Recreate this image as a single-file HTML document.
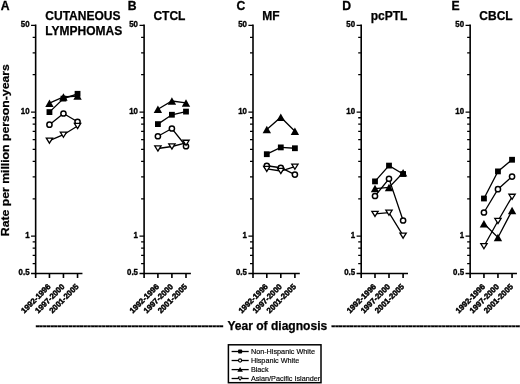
<!DOCTYPE html>
<html><head><meta charset="utf-8"><title>Figure</title>
<style>html,body{margin:0;padding:0;background:#fff}svg{display:block}.b{font-family:"Liberation Sans",Arial,Helvetica,sans-serif;font-weight:bold}.r{font-family:"Liberation Sans",Arial,Helvetica,sans-serif;font-weight:normal}</style>
</head><body>
<svg width="520" height="384" viewBox="0 0 520 384">
<rect width="520" height="384" fill="#fff"/>
<g class="b" fill="#000">
<text transform="translate(9.3,236.2) rotate(-90)" font-size="11.7" stroke="#000" stroke-width="0.25" textLength="172" lengthAdjust="spacingAndGlyphs">Rate per million person-years</text>
<g stroke="#000" stroke-width="1.6" fill="none" stroke-linecap="butt">
<path d="M35.65 24.50V274.32"/>
<path d="M31.05 273.52H82.45"/>
<path d="M31.05 25.30H35.65M31.05 112.05H35.65M31.05 236.16H35.65M32.65 37.33H35.65M32.65 52.83H35.65M32.65 74.69H35.65M32.65 117.73H35.65M32.65 124.08H35.65M32.65 131.28H35.65M32.65 139.58H35.65M32.65 149.41H35.65M32.65 161.44H35.65M32.65 176.95H35.65M32.65 198.80H35.65M32.65 241.84H35.65M32.65 248.19H35.65M32.65 255.39H35.65M32.65 263.70H35.65" stroke-width="1.3"/>
<path d="M35.65 273.52V278.02M49.45 273.52V278.02M63.45 273.52V278.02M77.55 273.52V278.02" stroke-width="1.6"/>
</g>
<text transform="translate(29.55,27.05) scale(0.95,1)" font-size="8.3" text-anchor="end" stroke="#000" stroke-width="0.35">50</text>
<text transform="translate(29.55,113.80) scale(0.95,1)" font-size="8.3" text-anchor="end" stroke="#000" stroke-width="0.35">10</text>
<text transform="translate(29.55,237.91) scale(0.95,1)" font-size="8.3" text-anchor="end" stroke="#000" stroke-width="0.35">1</text>
<text transform="translate(29.55,275.27) scale(0.95,1)" font-size="8.3" text-anchor="end" stroke="#000" stroke-width="0.35">0.5</text>
<text transform="translate(51.05,287.12) rotate(-45)" font-size="7.9" text-anchor="end" stroke="#000" stroke-width="0.45">1992-1996</text>
<text transform="translate(65.05,287.12) rotate(-45)" font-size="7.9" text-anchor="end" stroke="#000" stroke-width="0.45">1997-2000</text>
<text transform="translate(79.15,287.12) rotate(-45)" font-size="7.9" text-anchor="end" stroke="#000" stroke-width="0.45">2001-2005</text>
<text x="0.7" y="9.5" font-size="12.2" stroke="#000" stroke-width="0.3">A</text>
<text x="45.3" y="20.0" font-size="12" stroke="#000" stroke-width="0.25">CUTANEOUS</text>
<text x="45.3" y="34.9" font-size="12" stroke="#000" stroke-width="0.25">LYMPHOMAS</text>
<polyline points="49.45,112.10 63.45,98.60 77.55,93.80" fill="none" stroke="#000" stroke-width="1.3"/>
<rect x="46.55" y="109.20" width="5.8" height="5.8"/>
<rect x="60.55" y="95.70" width="5.8" height="5.8"/>
<rect x="74.65" y="90.90" width="5.8" height="5.8"/>
<polyline points="49.45,124.70 63.45,113.50 77.55,121.80" fill="none" stroke="#000" stroke-width="1.3"/>
<circle cx="49.45" cy="124.70" r="2.6" fill="#fff" stroke="#000" stroke-width="1.5"/>
<circle cx="63.45" cy="113.50" r="2.6" fill="#fff" stroke="#000" stroke-width="1.5"/>
<circle cx="77.55" cy="121.80" r="2.6" fill="#fff" stroke="#000" stroke-width="1.5"/>
<polyline points="49.45,103.20 63.45,97.00 77.55,96.00" fill="none" stroke="#000" stroke-width="1.3"/>
<path d="M49.45 99.45L53.65 106.95H45.25Z"/>
<path d="M63.45 93.25L67.65 100.75H59.25Z"/>
<path d="M77.55 92.25L81.75 99.75H73.35Z"/>
<polyline points="49.45,140.60 63.45,134.70 77.55,126.00" fill="none" stroke="#000" stroke-width="1.3"/>
<path d="M49.45 143.15L52.60 138.05H46.30Z" fill="#fff" stroke="#000" stroke-width="1.3" stroke-linejoin="miter"/>
<path d="M63.45 137.25L66.60 132.15H60.30Z" fill="#fff" stroke="#000" stroke-width="1.3" stroke-linejoin="miter"/>
<path d="M77.55 128.55L80.70 123.45H74.40Z" fill="#fff" stroke="#000" stroke-width="1.3" stroke-linejoin="miter"/>
<g stroke="#000" stroke-width="1.6" fill="none" stroke-linecap="butt">
<path d="M144.10 24.50V274.32"/>
<path d="M139.50 273.52H190.90"/>
<path d="M139.50 25.30H144.10M139.50 112.05H144.10M139.50 236.16H144.10M141.10 37.33H144.10M141.10 52.83H144.10M141.10 74.69H144.10M141.10 117.73H144.10M141.10 124.08H144.10M141.10 131.28H144.10M141.10 139.58H144.10M141.10 149.41H144.10M141.10 161.44H144.10M141.10 176.95H144.10M141.10 198.80H144.10M141.10 241.84H144.10M141.10 248.19H144.10M141.10 255.39H144.10M141.10 263.70H144.10" stroke-width="1.3"/>
<path d="M144.10 273.52V278.02M157.90 273.52V278.02M171.90 273.52V278.02M186.00 273.52V278.02" stroke-width="1.6"/>
</g>
<text transform="translate(138.00,27.05) scale(0.95,1)" font-size="8.3" text-anchor="end" stroke="#000" stroke-width="0.35">50</text>
<text transform="translate(138.00,113.80) scale(0.95,1)" font-size="8.3" text-anchor="end" stroke="#000" stroke-width="0.35">10</text>
<text transform="translate(138.00,237.91) scale(0.95,1)" font-size="8.3" text-anchor="end" stroke="#000" stroke-width="0.35">1</text>
<text transform="translate(138.00,275.27) scale(0.95,1)" font-size="8.3" text-anchor="end" stroke="#000" stroke-width="0.35">0.5</text>
<text transform="translate(159.50,287.12) rotate(-45)" font-size="7.9" text-anchor="end" stroke="#000" stroke-width="0.45">1992-1996</text>
<text transform="translate(173.50,287.12) rotate(-45)" font-size="7.9" text-anchor="end" stroke="#000" stroke-width="0.45">1997-2000</text>
<text transform="translate(187.60,287.12) rotate(-45)" font-size="7.9" text-anchor="end" stroke="#000" stroke-width="0.45">2001-2005</text>
<text x="127.7" y="9.5" font-size="12.2" stroke="#000" stroke-width="0.3">B</text>
<text x="153.4" y="20.2" font-size="12" stroke="#000" stroke-width="0.25">CTCL</text>
<polyline points="157.90,124.10 171.90,114.75 186.00,111.60" fill="none" stroke="#000" stroke-width="1.3"/>
<rect x="155.00" y="121.20" width="5.8" height="5.8"/>
<rect x="169.00" y="111.85" width="5.8" height="5.8"/>
<rect x="183.10" y="108.70" width="5.8" height="5.8"/>
<polyline points="157.90,136.25 171.90,128.50 186.00,146.25" fill="none" stroke="#000" stroke-width="1.3"/>
<circle cx="157.90" cy="136.25" r="2.6" fill="#fff" stroke="#000" stroke-width="1.5"/>
<circle cx="171.90" cy="128.50" r="2.6" fill="#fff" stroke="#000" stroke-width="1.5"/>
<circle cx="186.00" cy="146.25" r="2.6" fill="#fff" stroke="#000" stroke-width="1.5"/>
<polyline points="157.90,109.20 171.90,101.00 186.00,102.90" fill="none" stroke="#000" stroke-width="1.3"/>
<path d="M157.90 105.45L162.10 112.95H153.70Z"/>
<path d="M171.90 97.25L176.10 104.75H167.70Z"/>
<path d="M186.00 99.15L190.20 106.65H181.80Z"/>
<polyline points="157.90,148.50 171.90,146.50 186.00,142.80" fill="none" stroke="#000" stroke-width="1.3"/>
<path d="M157.90 151.05L161.05 145.95H154.75Z" fill="#fff" stroke="#000" stroke-width="1.3" stroke-linejoin="miter"/>
<path d="M171.90 149.05L175.05 143.95H168.75Z" fill="#fff" stroke="#000" stroke-width="1.3" stroke-linejoin="miter"/>
<path d="M186.00 145.35L189.15 140.25H182.85Z" fill="#fff" stroke="#000" stroke-width="1.3" stroke-linejoin="miter"/>
<g stroke="#000" stroke-width="1.6" fill="none" stroke-linecap="butt">
<path d="M253.00 24.50V274.32"/>
<path d="M248.40 273.52H299.80"/>
<path d="M248.40 25.30H253.00M248.40 112.05H253.00M248.40 236.16H253.00M250.00 37.33H253.00M250.00 52.83H253.00M250.00 74.69H253.00M250.00 117.73H253.00M250.00 124.08H253.00M250.00 131.28H253.00M250.00 139.58H253.00M250.00 149.41H253.00M250.00 161.44H253.00M250.00 176.95H253.00M250.00 198.80H253.00M250.00 241.84H253.00M250.00 248.19H253.00M250.00 255.39H253.00M250.00 263.70H253.00" stroke-width="1.3"/>
<path d="M253.00 273.52V278.02M266.80 273.52V278.02M280.80 273.52V278.02M294.90 273.52V278.02" stroke-width="1.6"/>
</g>
<text transform="translate(246.90,27.05) scale(0.95,1)" font-size="8.3" text-anchor="end" stroke="#000" stroke-width="0.35">50</text>
<text transform="translate(246.90,113.80) scale(0.95,1)" font-size="8.3" text-anchor="end" stroke="#000" stroke-width="0.35">10</text>
<text transform="translate(246.90,237.91) scale(0.95,1)" font-size="8.3" text-anchor="end" stroke="#000" stroke-width="0.35">1</text>
<text transform="translate(246.90,275.27) scale(0.95,1)" font-size="8.3" text-anchor="end" stroke="#000" stroke-width="0.35">0.5</text>
<text transform="translate(268.40,287.12) rotate(-45)" font-size="7.9" text-anchor="end" stroke="#000" stroke-width="0.45">1992-1996</text>
<text transform="translate(282.40,287.12) rotate(-45)" font-size="7.9" text-anchor="end" stroke="#000" stroke-width="0.45">1997-2000</text>
<text transform="translate(296.50,287.12) rotate(-45)" font-size="7.9" text-anchor="end" stroke="#000" stroke-width="0.45">2001-2005</text>
<text x="236.5" y="9.5" font-size="12.2" stroke="#000" stroke-width="0.3">C</text>
<text x="262.2" y="20.2" font-size="12" stroke="#000" stroke-width="0.25">MF</text>
<polyline points="266.80,154.20 280.80,147.40 294.90,148.25" fill="none" stroke="#000" stroke-width="1.3"/>
<rect x="263.90" y="151.30" width="5.8" height="5.8"/>
<rect x="277.90" y="144.50" width="5.8" height="5.8"/>
<rect x="292.00" y="145.35" width="5.8" height="5.8"/>
<polyline points="266.80,165.75 280.80,167.75 294.90,174.60" fill="none" stroke="#000" stroke-width="1.3"/>
<circle cx="266.80" cy="165.75" r="2.6" fill="#fff" stroke="#000" stroke-width="1.5"/>
<circle cx="280.80" cy="167.75" r="2.6" fill="#fff" stroke="#000" stroke-width="1.5"/>
<circle cx="294.90" cy="174.60" r="2.6" fill="#fff" stroke="#000" stroke-width="1.5"/>
<polyline points="266.80,129.40 280.80,117.20 294.90,131.20" fill="none" stroke="#000" stroke-width="1.3"/>
<path d="M266.80 125.65L271.00 133.15H262.60Z"/>
<path d="M280.80 113.45L285.00 120.95H276.60Z"/>
<path d="M294.90 127.45L299.10 134.95H290.70Z"/>
<polyline points="266.80,168.90 280.80,171.00 294.90,166.70" fill="none" stroke="#000" stroke-width="1.3"/>
<path d="M266.80 171.45L269.95 166.35H263.65Z" fill="#fff" stroke="#000" stroke-width="1.3" stroke-linejoin="miter"/>
<path d="M280.80 173.55L283.95 168.45H277.65Z" fill="#fff" stroke="#000" stroke-width="1.3" stroke-linejoin="miter"/>
<path d="M294.90 169.25L298.05 164.15H291.75Z" fill="#fff" stroke="#000" stroke-width="1.3" stroke-linejoin="miter"/>
<g stroke="#000" stroke-width="1.6" fill="none" stroke-linecap="butt">
<path d="M361.20 24.50V274.32"/>
<path d="M356.60 273.52H408.00"/>
<path d="M356.60 25.30H361.20M356.60 112.05H361.20M356.60 236.16H361.20M358.20 37.33H361.20M358.20 52.83H361.20M358.20 74.69H361.20M358.20 117.73H361.20M358.20 124.08H361.20M358.20 131.28H361.20M358.20 139.58H361.20M358.20 149.41H361.20M358.20 161.44H361.20M358.20 176.95H361.20M358.20 198.80H361.20M358.20 241.84H361.20M358.20 248.19H361.20M358.20 255.39H361.20M358.20 263.70H361.20" stroke-width="1.3"/>
<path d="M361.20 273.52V278.02M375.00 273.52V278.02M389.00 273.52V278.02M403.10 273.52V278.02" stroke-width="1.6"/>
</g>
<text transform="translate(355.10,27.05) scale(0.95,1)" font-size="8.3" text-anchor="end" stroke="#000" stroke-width="0.35">50</text>
<text transform="translate(355.10,113.80) scale(0.95,1)" font-size="8.3" text-anchor="end" stroke="#000" stroke-width="0.35">10</text>
<text transform="translate(355.10,237.91) scale(0.95,1)" font-size="8.3" text-anchor="end" stroke="#000" stroke-width="0.35">1</text>
<text transform="translate(355.10,275.27) scale(0.95,1)" font-size="8.3" text-anchor="end" stroke="#000" stroke-width="0.35">0.5</text>
<text transform="translate(376.60,287.12) rotate(-45)" font-size="7.9" text-anchor="end" stroke="#000" stroke-width="0.45">1992-1996</text>
<text transform="translate(390.60,287.12) rotate(-45)" font-size="7.9" text-anchor="end" stroke="#000" stroke-width="0.45">1997-2000</text>
<text transform="translate(404.70,287.12) rotate(-45)" font-size="7.9" text-anchor="end" stroke="#000" stroke-width="0.45">2001-2005</text>
<text x="342.2" y="9.5" font-size="12.2" stroke="#000" stroke-width="0.3">D</text>
<text x="370.7" y="20.2" font-size="12" stroke="#000" stroke-width="0.25">pcPTL</text>
<polyline points="375.00,181.40 389.00,165.60 403.10,174.00" fill="none" stroke="#000" stroke-width="1.3"/>
<rect x="372.10" y="178.50" width="5.8" height="5.8"/>
<rect x="386.10" y="162.70" width="5.8" height="5.8"/>
<rect x="400.20" y="171.10" width="5.8" height="5.8"/>
<polyline points="375.00,196.00 389.00,178.75 403.10,220.50" fill="none" stroke="#000" stroke-width="1.3"/>
<circle cx="375.00" cy="196.00" r="2.6" fill="#fff" stroke="#000" stroke-width="1.5"/>
<circle cx="389.00" cy="178.75" r="2.6" fill="#fff" stroke="#000" stroke-width="1.5"/>
<circle cx="403.10" cy="220.50" r="2.6" fill="#fff" stroke="#000" stroke-width="1.5"/>
<polyline points="375.00,188.60 389.00,187.40 403.10,172.70" fill="none" stroke="#000" stroke-width="1.3"/>
<path d="M375.00 184.85L379.20 192.35H370.80Z"/>
<path d="M389.00 183.65L393.20 191.15H384.80Z"/>
<path d="M403.10 168.95L407.30 176.45H398.90Z"/>
<polyline points="375.00,213.90 389.00,212.70 403.10,235.60" fill="none" stroke="#000" stroke-width="1.3"/>
<path d="M375.00 216.45L378.15 211.35H371.85Z" fill="#fff" stroke="#000" stroke-width="1.3" stroke-linejoin="miter"/>
<path d="M389.00 215.25L392.15 210.15H385.85Z" fill="#fff" stroke="#000" stroke-width="1.3" stroke-linejoin="miter"/>
<path d="M403.10 238.15L406.25 233.05H399.95Z" fill="#fff" stroke="#000" stroke-width="1.3" stroke-linejoin="miter"/>
<g stroke="#000" stroke-width="1.6" fill="none" stroke-linecap="butt">
<path d="M470.15 24.50V274.32"/>
<path d="M465.55 273.52H516.95"/>
<path d="M465.55 25.30H470.15M465.55 112.05H470.15M465.55 236.16H470.15M467.15 37.33H470.15M467.15 52.83H470.15M467.15 74.69H470.15M467.15 117.73H470.15M467.15 124.08H470.15M467.15 131.28H470.15M467.15 139.58H470.15M467.15 149.41H470.15M467.15 161.44H470.15M467.15 176.95H470.15M467.15 198.80H470.15M467.15 241.84H470.15M467.15 248.19H470.15M467.15 255.39H470.15M467.15 263.70H470.15" stroke-width="1.3"/>
<path d="M470.15 273.52V278.02M483.95 273.52V278.02M497.95 273.52V278.02M512.05 273.52V278.02" stroke-width="1.6"/>
</g>
<text transform="translate(464.05,27.05) scale(0.95,1)" font-size="8.3" text-anchor="end" stroke="#000" stroke-width="0.35">50</text>
<text transform="translate(464.05,113.80) scale(0.95,1)" font-size="8.3" text-anchor="end" stroke="#000" stroke-width="0.35">10</text>
<text transform="translate(464.05,237.91) scale(0.95,1)" font-size="8.3" text-anchor="end" stroke="#000" stroke-width="0.35">1</text>
<text transform="translate(464.05,275.27) scale(0.95,1)" font-size="8.3" text-anchor="end" stroke="#000" stroke-width="0.35">0.5</text>
<text transform="translate(485.55,287.12) rotate(-45)" font-size="7.9" text-anchor="end" stroke="#000" stroke-width="0.45">1992-1996</text>
<text transform="translate(499.55,287.12) rotate(-45)" font-size="7.9" text-anchor="end" stroke="#000" stroke-width="0.45">1997-2000</text>
<text transform="translate(513.65,287.12) rotate(-45)" font-size="7.9" text-anchor="end" stroke="#000" stroke-width="0.45">2001-2005</text>
<text x="451.6" y="9.5" font-size="12.2" stroke="#000" stroke-width="0.3">E</text>
<text x="479.3" y="20.2" font-size="12" stroke="#000" stroke-width="0.25">CBCL</text>
<polyline points="483.95,198.50 497.95,171.40 512.05,159.75" fill="none" stroke="#000" stroke-width="1.3"/>
<rect x="481.05" y="195.60" width="5.8" height="5.8"/>
<rect x="495.05" y="168.50" width="5.8" height="5.8"/>
<rect x="509.15" y="156.85" width="5.8" height="5.8"/>
<polyline points="483.95,212.50 497.95,189.20 512.05,176.60" fill="none" stroke="#000" stroke-width="1.3"/>
<circle cx="483.95" cy="212.50" r="2.6" fill="#fff" stroke="#000" stroke-width="1.5"/>
<circle cx="497.95" cy="189.20" r="2.6" fill="#fff" stroke="#000" stroke-width="1.5"/>
<circle cx="512.05" cy="176.60" r="2.6" fill="#fff" stroke="#000" stroke-width="1.5"/>
<polyline points="483.95,223.70 497.95,237.50 512.05,210.60" fill="none" stroke="#000" stroke-width="1.3"/>
<path d="M483.95 219.95L488.15 227.45H479.75Z"/>
<path d="M497.95 233.75L502.15 241.25H493.75Z"/>
<path d="M512.05 206.85L516.25 214.35H507.85Z"/>
<polyline points="483.95,246.20 497.95,221.00 512.05,196.80" fill="none" stroke="#000" stroke-width="1.3"/>
<path d="M483.95 248.75L487.10 243.65H480.80Z" fill="#fff" stroke="#000" stroke-width="1.3" stroke-linejoin="miter"/>
<path d="M497.95 223.55L501.10 218.45H494.80Z" fill="#fff" stroke="#000" stroke-width="1.3" stroke-linejoin="miter"/>
<path d="M512.05 199.35L515.20 194.25H508.90Z" fill="#fff" stroke="#000" stroke-width="1.3" stroke-linejoin="miter"/>
<text x="35.4" y="330.4" font-size="12" stroke="#000" stroke-width="0.35" textLength="188.2" lengthAdjust="spacing">---------------------------------------------------</text>
<text x="227.4" y="329.7" font-size="12" stroke="#000" stroke-width="0.25" textLength="99.8" lengthAdjust="spacingAndGlyphs">Year of diagnosis</text>
<text x="331.2" y="330.4" font-size="12" stroke="#000" stroke-width="0.35" textLength="191.9" lengthAdjust="spacing">----------------------------------------------------</text>
</g>
<g class="r" fill="#000">
<rect x="228.4" y="344.8" width="92.6" height="37.9" fill="#fff" stroke="#000" stroke-width="1.5"/>
<path d="M231.6 351.5H248.7" stroke="#000" stroke-width="1.3"/>
<rect x="238.1" y="349.5" width="4" height="4" rx="0.8"/>
<text x="250.9" y="353.50" font-size="7.25" stroke="#000" stroke-width="0.15">Non-Hispanic White</text>
<path d="M231.6 360.5H248.7" stroke="#000" stroke-width="1.3"/>
<circle cx="240.1" cy="360.5" r="1.6" fill="#fff" stroke="#000" stroke-width="1.1"/>
<text x="250.9" y="362.50" font-size="7.25" stroke="#000" stroke-width="0.15">Hispanic White</text>
<path d="M231.6 369.6H248.7" stroke="#000" stroke-width="1.3"/>
<path d="M240.1 367.0L242.9 371.70000000000005H237.29999999999998Z"/>
<text x="250.9" y="371.60" font-size="7.25" stroke="#000" stroke-width="0.15">Black</text>
<path d="M231.6 378.5H248.7" stroke="#000" stroke-width="1.3"/>
<path d="M240.1 380.4L242.1 377.0H238.1Z" fill="#fff" stroke="#000" stroke-width="1.0"/>
<text x="250.9" y="380.50" font-size="7.25" stroke="#000" stroke-width="0.15">Asian/Pacific Islander</text>
</g>
</svg>
</body></html>
